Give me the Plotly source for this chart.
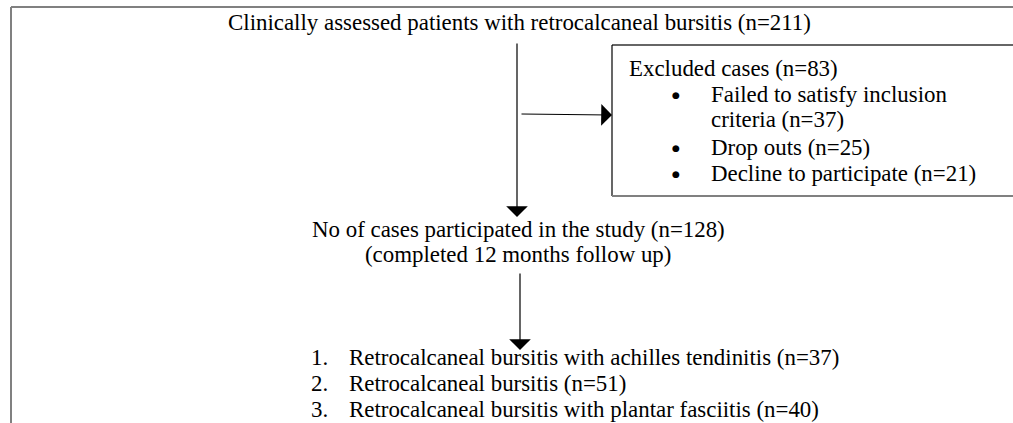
import plotly.graph_objects as go

W, H = 1013, 423

title_text = "Clinically assessed patients with retrocalcaneal bursitis (n=211)"
excluded_header = "Excluded cases (n=83)"
excluded_items = [["Failed to satisfy inclusion", "criteria (n=37)"], ["Drop outs (n=25)"], ["Decline to participate (n=21)"]]
participated_lines = ["No of cases participated in the study (n=128)", "(completed 12 months follow up)"]
group_labels = ["Retrocalcaneal bursitis with achilles tendinitis (n=37)",
                "Retrocalcaneal bursitis (n=51)",
                "Retrocalcaneal bursitis with plantar fasciitis (n=40)"]

FONT = dict(family="Liberation Serif, Times New Roman, serif", size=22.9, color="black")

fig = go.Figure()

shapes = []
# outer frame (top and left)
shapes.append(dict(type="line", xref="paper", yref="y", x0=11 / W, y0=7, x1=1.05, y1=7, line=dict(color="#808080", width=2)))
shapes.append(dict(type="line", x0=11, y0=7, x1=11, y1=H + 10, line=dict(color="#808080", width=2)))
# excluded box
shapes.append(dict(type="line", xref="paper", yref="y", x0=612 / W, y0=45, x1=1.05, y1=45, line=dict(color="#333333", width=1.5)))
shapes.append(dict(type="line", x0=612, y0=45, x1=612, y1=196, line=dict(color="black", width=1.2)))
shapes.append(dict(type="line", xref="paper", yref="y", x0=612 / W, y0=196, x1=1.05, y1=196, line=dict(color="#808080", width=2)))

annotations = []
annotations.append(dict(x=519, y=22, text=title_text, showarrow=False, xanchor="center", yanchor="middle", font=FONT))
annotations.append(dict(x=627, y=68, text=excluded_header, showarrow=False, xanchor="left", yanchor="middle", font=FONT))
item_y = [[94, 119], [147], [173]]
for lines, ys in zip(excluded_items, item_y):
    for txt, yy in zip(lines, ys):
        annotations.append(dict(x=709, y=yy, text=txt, showarrow=False, xanchor="left", yanchor="middle", font=FONT))
    annotations.append(dict(x=676, y=ys[0] + 1, text="\u25cf", showarrow=False, xanchor="center", yanchor="middle",
                            font=dict(family="DejaVu Sans", size=9, color="black")))
annotations.append(dict(x=518, y=229, text=participated_lines[0], showarrow=False, xanchor="center", yanchor="middle", font=FONT))
annotations.append(dict(x=518, y=254, text=participated_lines[1], showarrow=False, xanchor="center", yanchor="middle", font=FONT))
list_y = [357, 383, 409]
for i, (txt, yy) in enumerate(zip(group_labels, list_y)):
    annotations.append(dict(x=309, y=yy, text=f"{i+1}.", showarrow=False, xanchor="left", yanchor="middle", font=FONT))
    annotations.append(dict(x=347, y=yy, text=txt, showarrow=False, xanchor="left", yanchor="middle", font=FONT))

# arrows
arrow_style = dict(showarrow=True, arrowhead=1, arrowsize=3, arrowwidth=1.2, arrowcolor="black",
                   axref="x", ayref="y", text="", standoff=0, startstandoff=0)
annotations.append(dict(x=517, y=217, ax=517, ay=42, **arrow_style))
annotations.append(dict(x=612, y=115, ax=520, ay=114, **arrow_style))
annotations.append(dict(x=520, y=350, ax=520, ay=272, **arrow_style))

fig.update_layout(
    width=W, height=H,
    margin=dict(l=0, r=0, t=0, b=0),
    paper_bgcolor="white", plot_bgcolor="white",
    xaxis=dict(range=[0, W], visible=False, fixedrange=True),
    yaxis=dict(range=[H, 0], visible=False, fixedrange=True),
    shapes=shapes, annotations=annotations,
    showlegend=False,
)
fig.write_html("out.html", config=dict(displayModeBar=False),
               post_script="document.body.style.margin='0';document.body.style.overflow='hidden';")
